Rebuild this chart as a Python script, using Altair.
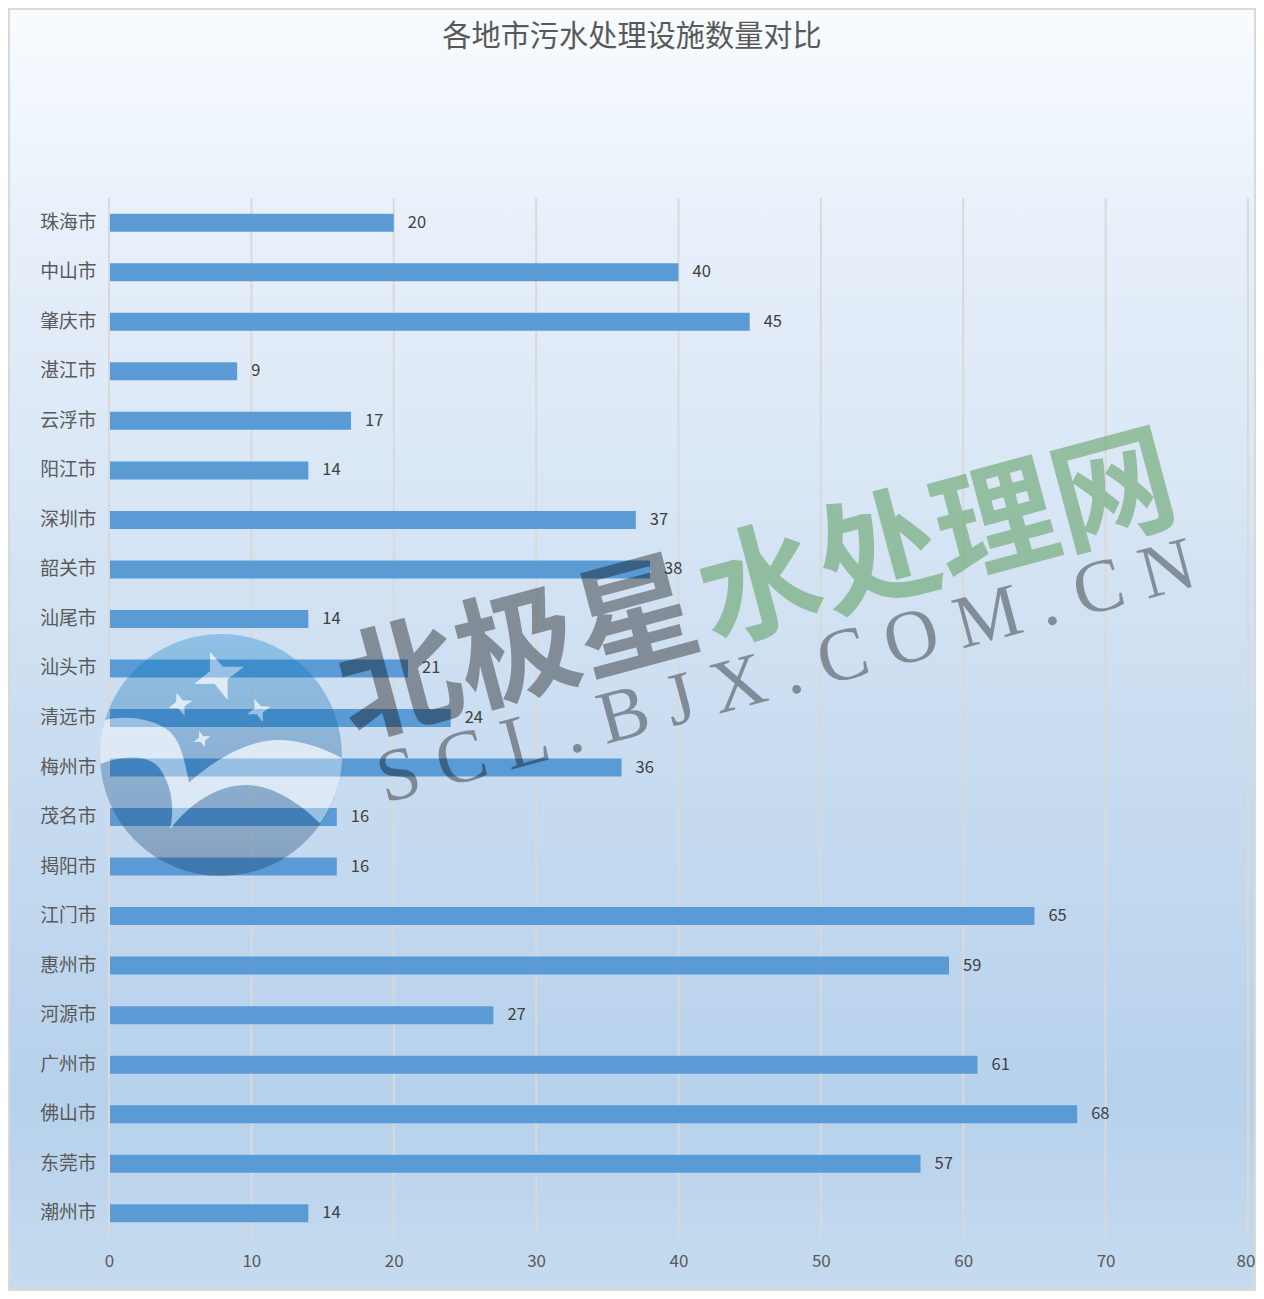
import altair as alt

cities = ["珠海市","中山市","肇庆市","湛江市","云浮市","阳江市","深圳市","韶关市","汕尾市","汕头市","清远市",
          "梅州市","茂名市","揭阳市","江门市","惠州市","河源市","广州市","佛山市","东莞市","潮州市"]
counts = [20,40,45,9,17,14,37,38,14,21,24,36,16,16,65,59,27,61,68,57,14]
ticks = [0,10,20,30,40,50,60,70,80]
title_text = "各地市污水处理设施数量对比"
wm_grey = "北极星"
wm_green = "水处理网"
wm_url = "S C L . B J X . C O M . C N"

rows = [{"city": c, "n": n} for c, n in zip(cities, counts)]
base = alt.Chart(alt.Data(values=rows))
one = alt.Chart(alt.Data(values=[{"k": 1}]))
tick_rows = alt.Chart(alt.Data(values=[{"n": t} for t in ticks]))

x_scale = alt.Scale(domain=[0, 80], nice=False)
x_enc = alt.X("n:Q", scale=x_scale,
              axis=alt.Axis(values=ticks, title=None, grid=False, labelFlush=False, labelBound=False,
                            labelOffset={"condition": {"test": "datum.value == 80", "value": -2.5}, "value": 0},
                            domain=False, ticks=False, labelFontSize=17, labelColor="#595959",
                            labelPadding=15, labelFont="Noto Sans CJK SC", zindex=1))
y_enc = alt.Y("city:N", sort=cities, scale=alt.Scale(paddingInner=0, paddingOuter=0),
              axis=alt.Axis(title=None, domain=False, ticks=False,
                            grid=False, labelFontSize=18.8, labelColor="#595959", labelPadding=13,
                            labelFont="Noto Sans CJK SC", zindex=1))

bg = one.mark_rect(
    stroke="#d9d9d9", strokeWidth=4,
    fill=alt.LinearGradient(gradient="linear", x1=0, x2=0, y1=0, y2=1, stops=[
        alt.GradientStop(offset=0, color="#f8fcff"),
        alt.GradientStop(offset=0.15, color="#e9f1fa"),
        alt.GradientStop(offset=0.5, color="#cfe0f2"),
        alt.GradientStop(offset=0.85, color="#b6d1eb"),
        alt.GradientStop(offset=1, color="#c6dbef"),
    ])
).encode(x=alt.value(-101), x2=alt.value(1147), y=alt.value(-190), y2=alt.value(1093))

grid = tick_rows.mark_rule(color="#d9d9d9", strokeWidth=2).encode(x=x_enc)
bars = base.mark_bar(size=18, color="#5b9bd5").encode(x=x_enc, y=y_enc)
zero = tick_rows.transform_filter("datum.n == 0").mark_rule(color="#d9d9d9", strokeWidth=2).encode(x=x_enc)
labels = base.mark_text(align="left", baseline="middle", dx=14, fontSize=16.5, color="#404040",
                        font="Noto Sans CJK SC").encode(x=x_enc, y=y_enc, text="n:Q")
title = one.mark_text(text=title_text, fontSize=29.2, color="#595959", font="Noto Sans CJK SC",
                      align="center", baseline="middle").encode(x=alt.value(523), y=alt.value(-161))

# ---- logo: outlines, expressed around its centre
CX, CY, R = 393.0, 405.0, 363.0
def u(p):
    return f"{(p[0]-CX)/R:.4f} {(p[1]-CY)/R:.4f}"

def star(c, tips):
    out = []
    for i, t in enumerate(tips):
        n = tips[(i + 1) % 4]
        inner = (c[0] + 0.26 * (t[0] + n[0] - 2 * c[0]), c[1] + 0.26 * (t[1] + n[1] - 2 * c[1]))
        out.append(("M " if i == 0 else "L ") + u(t))
        out.append("L " + u(inner))
    return " ".join(out) + " Z"

stars = " ".join([
    star((385, 165), [(360, 95), (462, 140), (413, 240), (313, 192)]),
    star((270, 252), [(260, 218), (307, 242), (284, 288), (236, 264)]),
    star((507, 270), [(493, 236), (542, 260), (518, 306), (471, 283)]),
    star((336, 357), [(327, 332), (361, 349), (345, 382), (311, 365)]),
])
swoosh = ("M " + u((45, 300)) + " C " + u((110, 285)) + " " + u((190, 295)) + " " + u((240, 335))
          + " C " + u((275, 370)) + " " + u((285, 430)) + " " + u((297, 488))
          + " C " + u((400, 395)) + " " + u((500, 358)) + " " + u((570, 360))
          + " C " + u((640, 362)) + " " + u((700, 385)) + " " + u((757, 415))
          + " A 1 1 0 0 1 " + u((690, 610))
          + " C " + u((620, 540)) + " " + u((540, 495)) + " " + u((470, 495))
          + " C " + u((380, 495)) + " " + u((300, 550)) + " " + u((240, 628))
          + " C " + u((255, 560)) + " " + u((245, 490)) + " " + u((205, 440))
          + " C " + u((165, 400)) + " " + u((90, 410)) + " " + u((30, 432))
          + " A 1 1 0 0 1 " + u((45, 300)) + " Z")
disc = "M 1 0 A 1 1 0 0 0 -1 0 A 1 1 0 0 0 1 0 Z " + swoosh + " " + stars
light = swoosh + " " + stars

logo_x, logo_y, logo_size = alt.value(112), alt.value(557), 242 ** 2
logo_dark = one.mark_point(
    shape=disc, size=logo_size, filled=True, opacity=0.32, strokeWidth=0,
    fill=alt.LinearGradient(gradient="linear", x1=0, x2=0, y1=0, y2=1, stops=[
        alt.GradientStop(offset=0, color="#007fcc"),
        alt.GradientStop(offset=0.5, color="#0a5596"),
        alt.GradientStop(offset=1, color="#072954"),
    ])
).encode(x=logo_x, y=logo_y)
logo_light = one.mark_point(shape=light, size=logo_size, filled=True, opacity=0.37, strokeWidth=0,
                            fill="#ffffff").encode(x=logo_x, y=logo_y)

wm1 = one.mark_text(text=wm_grey, angle=345, fontSize=122, fontWeight="bold", font="Noto Sans CJK SC",
                    color="#000000", opacity=0.37, align="center", baseline="middle"
                    ).encode(x=alt.value(410), y=alt.value(456))
wm2 = one.mark_text(text=wm_green, angle=345, fontSize=122, fontWeight="bold", font="Noto Sans CJK SC",
                    color="#5b9e5d", opacity=0.55, align="center", baseline="middle"
                    ).encode(x=alt.value(829), y=alt.value(345))
wm3 = one.mark_text(text=wm_url, angle=345, fontSize=75, font="Liberation Serif",
                    color="#000000", opacity=0.37, align="center", baseline="middle"
                    ).encode(x=alt.value(677), y=alt.value(474))

chart = alt.layer(bg, grid, bars, zero, labels, title, logo_dark, logo_light, wm1, wm2, wm3).properties(
    width=1139, height=1040,
    padding={"left": 101, "top": 190, "right": 8, "bottom": 53},
    autosize=alt.AutoSizeParams(type="none"),
).configure_view(stroke=None)

chart.save("out.html", embed_options={"renderer": "svg", "actions": False})
